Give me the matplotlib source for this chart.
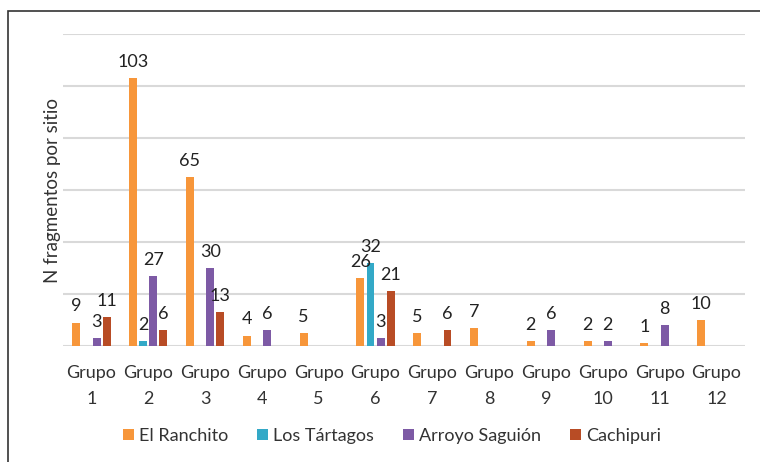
import numpy as np
import matplotlib.pyplot as plt
from matplotlib.patches import Rectangle

plt.rcParams['font.family'] = ['Lato', 'DejaVu Sans']

# Datos: fragmentos por sitio y grupo
grupos = ['Grupo\n%d' % i for i in range(1, 13)]
sitios = ['El Ranchito', 'Los Tártagos', 'Arroyo Saguión', 'Cachipuri']
el_ranchito = [9, 103, 65, 4, 5, 26, 5, 7, 2, 2, 1, 10]
los_tartagos = [0, 2, 0, 0, 0, 32, 0, 0, 0, 0, 0, 0]
arroyo_saguion = [3, 27, 30, 6, 0, 3, 0, 0, 6, 2, 8, 0]
cachipuri = [11, 6, 13, 0, 0, 21, 6, 0, 0, 0, 0, 0]
colores = ['#F7963A', '#33A9C7', '#7D5AA5', '#B84C25']

series = [el_ranchito, los_tartagos, arroyo_saguion, cachipuri]

fig = plt.figure(figsize=(7.6, 4.62), dpi=100)
ax = fig.add_axes([0.083, 0.251, 0.897, 0.675])

x = np.arange(len(grupos))
step = 0.178
width = 0.14
for k, (vals, name, col) in enumerate(zip(series, sitios, colores)):
    vals = np.array(vals, dtype=float)
    pos = x + (k - 1.5) * step
    ax.bar(pos, np.where(vals > 0, vals, 0), width, color=col, label=name)
    for p, v in zip(pos, vals):
        if v > 0:
            ax.annotate('%d' % v, (p, v), xytext=(0, 6), textcoords='offset points',
                        ha='center', va='bottom', fontsize=13, color='#222222')

ax.set_xlim(-0.5, len(grupos) - 0.5)
ax.set_ylim(0, 120)
ax.set_yticks(np.arange(0, 121, 20))
ax.set_yticklabels([])
ax.tick_params(axis='y', length=0)
ax.tick_params(axis='x', length=0, pad=14, labelsize=13, colors='#333333')
ax.set_xticks(x)
ax.set_xticklabels(grupos, linespacing=1.7)
ax.grid(axis='y', color='#D9D9D9', linewidth=1.5)
ax.set_axisbelow(True)
for s in ax.spines.values():
    s.set_visible(False)
ax.set_ylabel('N fragmentos por sitio', fontsize=13.5, color='#333333', labelpad=-2)

leg = fig.legend(loc='center', bbox_to_anchor=(0.516, 0.056), ncol=4, frameon=False,
                 fontsize=13, handlelength=0.6, handleheight=0.6, handletextpad=0.3,
                 columnspacing=1.6)
for t in leg.get_texts():
    t.set_color('#333333')

fig.patches.append(Rectangle((8 / 760, -0.1), 1.2, 1 - 11 / 462 + 0.1,
                             transform=fig.transFigure, fill=False,
                             edgecolor='#333333', linewidth=1.2))

fig.savefig('out.png', dpi=100)
